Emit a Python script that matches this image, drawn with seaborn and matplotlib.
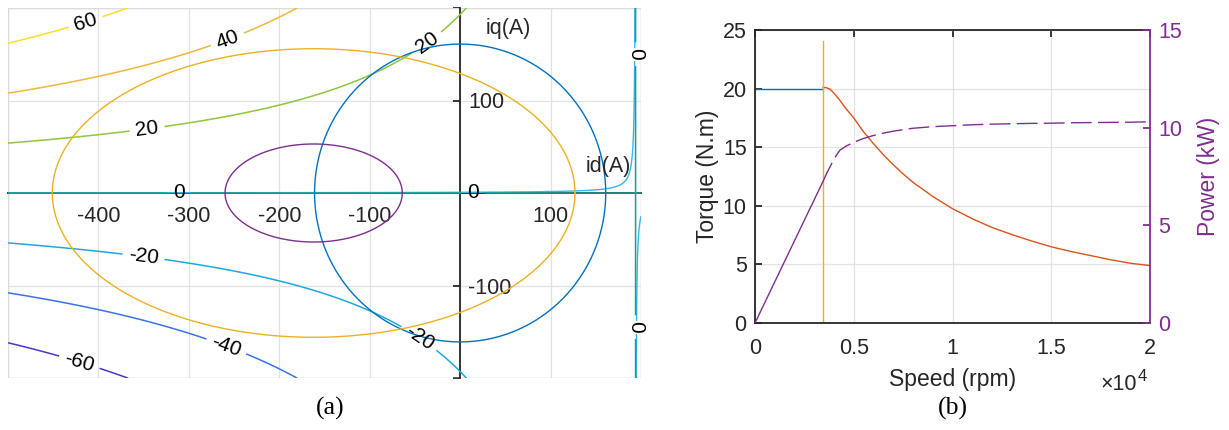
import numpy as np
import matplotlib
matplotlib.use("Agg")
import matplotlib.pyplot as plt
from matplotlib.patches import Rectangle
import seaborn as sns

# ---------------- (a) current plane, id / iq in A ----------------
torque_levels = [-60, -40, -20, 0, 20, 40, 60]
torque_colors = ["#4b36cc", "#3a72ee", "#1fa7e0", "#15a08d", "#8dc63f", "#eeb93b", "#f5e227"]
id_reversal = 194.0        # id where reluctance torque cancels magnet torque
torque_gain = 5.34e-4      # N.m per A^2
fringe_level = 0.08        # near-zero torque contour
fringe_color = "#33b8e8"

current_limit = 161.0                 # current-limit circle radius
ellipse_center = -162.0               # voltage-ellipse centre on the id axis
ellipse_base = (289.0, 156.0)         # semi-axes (id, iq) at base speed
ellipse_high = (98.0, 53.0)           # semi-axes (id, iq) at high speed

# contour label anchors (id, iq)
label_spots = [(-415, 188), (-257, 165), (-346, 68), (-37, 163),
               (-351, -75), (-48, -161), (-262, -175), (-423, -189),
               (-311, 0), (14, 0), (192, 150), (192, -145)]

x_ticks = [-500, -400, -300, -200, -100, 0, 100, 200]
x_tick_labels = ["", "-400", "-300", "-200", "-100", "", "100", ""]
y_ticks = [-200, -100, 0, 100, 200]
y_tick_labels = ["", "-100", "", "100", ""]

# ---------------- (b) torque / power versus speed ----------------
speed_base = [0, 3440]
torque_base = [20.0, 20.0]
power_base = [0.0, 7.24]

speed_fw = [3440, 3600, 3800, 4000, 4300, 4600, 5000, 5500, 6000, 6500, 7000,
            7500, 8000, 9000, 10000, 11000, 12000, 13000, 14000, 15000, 16000,
            17000, 18000, 19000, 20000]
torque_fw = [20.1, 20.08, 19.95, 19.6, 19.0, 18.3, 17.5, 16.3, 15.3, 14.35, 13.5,
             12.72, 12.0, 10.8, 9.75, 8.9, 8.15, 7.55, 7.0, 6.5, 6.1,
             5.75, 5.4, 5.1, 4.9]
power_fw = [7.24, 7.6, 8.0, 8.4, 8.85, 9.05, 9.25, 9.45, 9.6, 9.72, 9.82,
            9.9, 9.97, 10.05, 10.1, 10.15, 10.18, 10.2, 10.22, 10.23, 10.25,
            10.26, 10.27, 10.28, 10.3]
base_speed_marker = 3440
marker_top = 24.1

speed_ticks = [0, 5000, 10000, 15000, 20000]
speed_tick_labels = ["0", "0.5", "1", "1.5", "2"]

BLUE, ORANGE, YELLOW, PURPLE = "#0072BD", "#D95319", "#EDB120", "#7E2F8E"
INK = "#262626"
GRID = "#e2e2e2"
TICK_FS = 15.5
LABEL_FS = 16.5

sns.set_theme(style="white")
plt.rcParams["font.family"] = ["Liberation Sans", "DejaVu Sans"]

fig = plt.figure(figsize=(12.29, 4.30), dpi=100)
W, H = 1229, 430
ax = fig.add_axes([8 / W, 1 - 378 / H, 633 / W, 370 / H])
axr = fig.add_axes([755 / W, 1 - 323 / H, 395 / W, 293 / H])

# ---- panel (a) ----
id_axis = np.linspace(-500, 200, 1401)
iq_axis = np.linspace(-200.25, 200.25, 802)
ID, IQ = np.meshgrid(id_axis, iq_axis)
torque_map = torque_gain * IQ * (id_reversal - ID)

ax.contour(ID, IQ, torque_map, levels=[fringe_level], colors=[fringe_color],
           linewidths=1.0, zorder=2.8)
cs = ax.contour(ID, IQ, torque_map, levels=torque_levels, colors=torque_colors,
                linewidths=1.1, zorder=3)
labels = ax.clabel(cs, manual=label_spots, inline=True, inline_spacing=6, fontsize=15,
                   fmt=lambda v: f"{v:.0f}", colors="black")
for t in labels:
    t.set_clip_on(False)
    t.set_zorder(4)
    x, _ = t.get_position()
    if x > 150:  # labels sitting on the vertical zero-torque branch
        t.set_bbox(dict(facecolor="white", edgecolor="none", pad=0.5))

theta = np.linspace(0, 2 * np.pi, 721)
curves = [
    (0.0, current_limit, current_limit, BLUE),
    (ellipse_center, ellipse_base[0], ellipse_base[1], YELLOW),
    (ellipse_center, ellipse_high[0], ellipse_high[1], PURPLE),
]
for cx, a, b, col in curves:
    sns.lineplot(x=cx + a * np.cos(theta), y=b * np.sin(theta), ax=ax, color=col,
                 linewidth=1.0, sort=False, estimator=None, zorder=3)

ax.set_xlim(-500, 200)
ax.set_ylim(-200, 200)
ax.set_xticks(x_ticks)
ax.set_xticklabels(x_tick_labels)
ax.set_yticks(y_ticks)
ax.set_yticklabels(y_tick_labels)
ax.yaxis.tick_right()
ax.spines["bottom"].set_position(("data", 0))
ax.spines["right"].set_position(("data", 0))
ax.spines["top"].set_visible(False)
ax.spines["left"].set_visible(False)
for s in ("bottom", "right"):
    ax.spines[s].set_color(INK)
    ax.spines[s].set_linewidth(1.3)
    ax.spines[s].set_zorder(2.6)
ax.tick_params(axis="both", direction="in", length=5, width=1.3, color=INK,
               labelcolor=INK, labelsize=TICK_FS)
ax.tick_params(axis="x", pad=9)
ax.tick_params(axis="y", pad=6)
ax.grid(True, color=GRID, linewidth=0.9)
ax.set_axisbelow(True)
ax.add_patch(Rectangle((0, 0), 1, 1, transform=ax.transAxes, fill=False,
                       edgecolor="#dcdcdc", linewidth=1.0, zorder=1))
ax.set_xlabel("")
ax.set_ylabel("")
ax.text(28, 178, "iq(A)", fontsize=TICK_FS, color=INK, ha="left", va="center")
ax.text(139, 29, "id(A)", fontsize=TICK_FS, color=INK, ha="left", va="center")

# ---- panel (b) ----
axp = axr.twinx()
sns.lineplot(x=speed_base, y=torque_base, ax=axr, color=BLUE, linewidth=1.0,
             estimator=None, sort=False)
sns.lineplot(x=speed_fw, y=torque_fw, ax=axr, color=ORANGE, linewidth=1.0,
             estimator=None, sort=False)
sns.lineplot(x=[base_speed_marker, base_speed_marker], y=[0, marker_top], ax=axr,
             color=YELLOW, linewidth=1.0, estimator=None, sort=False)
sns.lineplot(x=speed_base, y=power_base, ax=axp, color=PURPLE, linewidth=1.0,
             estimator=None, sort=False)
sns.lineplot(x=speed_fw, y=power_fw, ax=axp, color=PURPLE, linewidth=1.0,
             estimator=None, sort=False)
axp.lines[-1].set_dashes((15, 4.5))

axr.set_xlim(0, 20000)
axr.set_ylim(0, 25)
axp.set_ylim(0, 15)
axr.set_xticks(speed_ticks)
axr.set_xticklabels(speed_tick_labels)
axr.set_yticks([0, 5, 10, 15, 20, 25])
axp.set_yticks([0, 5, 10, 15])
axr.grid(True, color=GRID, linewidth=0.9)
axr.set_axisbelow(True)
for s in ("left", "bottom", "top"):
    axr.spines[s].set_color(INK)
    axr.spines[s].set_linewidth(1.3)
axr.spines["right"].set_visible(False)
for s in ("left", "bottom", "top"):
    axp.spines[s].set_visible(False)
axp.spines["right"].set_color(PURPLE)
axp.spines["right"].set_linewidth(1.3)
axr.tick_params(axis="both", direction="in", length=5, width=1.3, color=INK,
                labelcolor=INK, labelsize=TICK_FS, top=True, right=False)
axr.tick_params(axis="x", pad=11)
axr.tick_params(axis="y", pad=6)
axp.tick_params(axis="y", direction="in", length=5, width=1.3, color=PURPLE,
                labelcolor=PURPLE, labelsize=TICK_FS, pad=6)

axr.set_xlabel("Speed (rpm)", fontsize=LABEL_FS, color=INK)
axr.set_ylabel("Torque (N.m)", fontsize=LABEL_FS, color=INK)
axp.set_ylabel("Power (kW)", fontsize=LABEL_FS, color=PURPLE)
axr.xaxis.set_label_coords(0.5, -0.155)
axr.yaxis.set_label_coords(-0.09, 0.5)
axp.yaxis.set_label_coords(1.119, 0.5)

axr.text(0.875, -0.229, "\u00d710", transform=axr.transAxes, fontsize=TICK_FS,
         color=INK, ha="left", va="baseline")
axr.text(0.968, -0.199, "4", transform=axr.transAxes, fontsize=12,
         color=INK, ha="left", va="baseline")

fig.text(330 / W, 1 - 408 / H, "(a)", family="Liberation Serif", fontsize=18.5,
         color="black", ha="center", va="center")
fig.text(953 / W, 1 - 408 / H, "(b)", family="Liberation Serif", fontsize=18.5,
         color="black", ha="center", va="center")

fig.savefig("out.png", dpi=100)
